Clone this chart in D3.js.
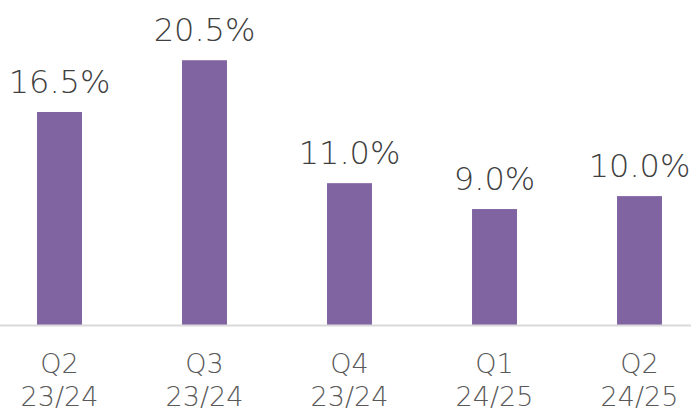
<!DOCTYPE html>
<html>
<head>
<meta charset="utf-8">
<script src="https://cdn.jsdelivr.net/npm/d3@7/dist/d3.min.js"></script>
<style>
  html, body { margin: 0; padding: 0; background: #fff; }
  svg { display: block; }
  text { font-family: "DejaVu Sans", sans-serif; font-weight: 200; }
</style>
</head>
<body>
<svg id="chart" width="691" height="413"></svg>
<script>
// Quarterly growth figures
const quarters = ["Q2", "Q3", "Q4", "Q1", "Q2"];
const years = ["23/24", "23/24", "23/24", "24/25", "24/25"];
const growth = [16.5, 20.5, 11.0, 9.0, 10.0];
const keys = quarters.map((q, i) => q + " " + years[i]);

const svg = d3.select("#chart");
const baseY = 325.5;

const x = d3.scaleBand()
  .domain(keys)
  .range([-13, 712])
  .paddingInner(0.69)
  .paddingOuter(0.345);

const y = d3.scaleLinear()
  .domain([0, 25])
  .range([baseY, baseY - 25 * 12.94]);

// bars
svg.selectAll("rect.bar")
  .data(growth)
  .join("rect")
  .attr("class", "bar")
  .attr("x", (d, i) => x(keys[i]))
  .attr("width", x.bandwidth())
  .attr("y", d => y(d))
  .attr("height", d => y(0) - y(d))
  .attr("fill", "#8064a2");

// baseline
svg.append("line")
  .attr("x1", 0).attr("x2", 691)
  .attr("y1", baseY).attr("y2", baseY)
  .attr("stroke", "#d9d9d9")
  .attr("stroke-width", 2);

// value labels
svg.selectAll("text.val")
  .data(growth)
  .join("text")
  .attr("class", "val")
  .attr("x", (d, i) => x(keys[i]) + x.bandwidth() / 2)
  .attr("y", d => y(d) - 19)
  .attr("text-anchor", "middle")
  .attr("font-size", 32)
  .attr("fill", "#404040")
  .text(d => d.toFixed(1) + "%");

// category labels (two lines)
const cat = svg.selectAll("text.cat")
  .data(keys)
  .join("text")
  .attr("class", "cat")
  .attr("text-anchor", "middle")
  .attr("font-size", 27)
  .attr("fill", "#595959");

cat.append("tspan")
  .attr("x", d => x(d) + x.bandwidth() / 2)
  .attr("y", 373)
  .text((d, i) => quarters[i]);

cat.append("tspan")
  .attr("x", d => x(d) + x.bandwidth() / 2)
  .attr("y", 406)
  .text((d, i) => years[i]);
</script>
</body>
</html>
